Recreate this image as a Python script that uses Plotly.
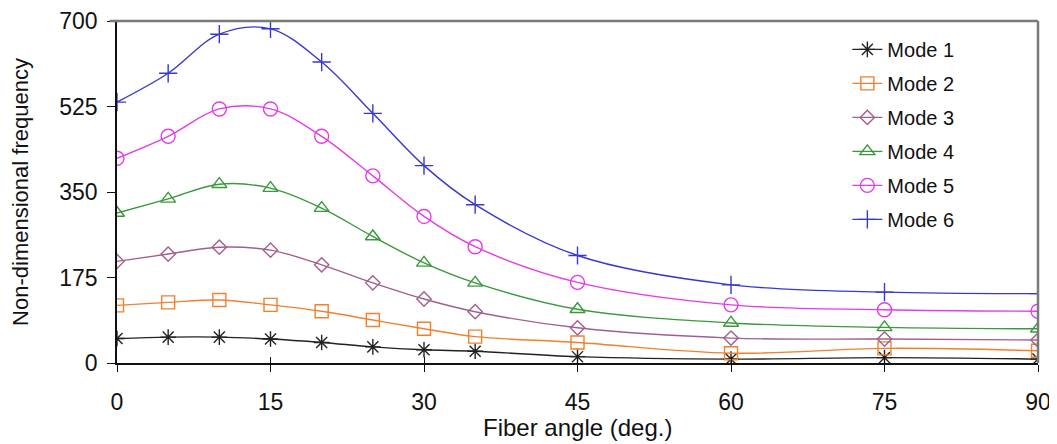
import plotly.graph_objects as go

fiber_angle = [0, 5, 10, 15, 20, 25, 30, 35, 45, 60, 75, 90]

mode1 = [50, 53, 53, 49, 42, 33, 27, 24, 13, 8, 11, 8]
mode2 = [118, 124, 129, 119, 106, 88, 70, 54, 42, 20, 30, 25]
mode3 = [208, 223, 237, 231, 201, 164, 131, 105, 72, 51, 49, 47]
mode4 = [307, 336, 366, 358, 317, 259, 205, 164, 110, 82, 73, 70]
mode5 = [419, 464, 520, 520, 464, 383, 300, 238, 165, 119, 109, 106]
mode6 = [534, 593, 673, 684, 616, 511, 404, 324, 220, 160, 145, 142]

series_names = ["Mode 1", "Mode 2", "Mode 3", "Mode 4", "Mode 5", "Mode 6"]
series_values = [mode1, mode2, mode3, mode4, mode5, mode6]

x_ticks = [0, 15, 30, 45, 60, 75, 90]
y_ticks = [0, 175, 350, 525, 700]

colors = ["#222222", "#F0802E", "#A0608C", "#3A993A", "#E53BE5", "#3838D0"]
symbols = ["asterisk-open", "square-open", "diamond-open", "triangle-up-open",
           "circle-open", "cross-thin-open"]
sizes = [13, 13, 11, 13, 14, 13]

FONT = "Liberation Sans, Arial, sans-serif"

fig = go.Figure()
for i, (name, vals) in enumerate(zip(series_names, series_values)):
    fig.add_trace(go.Scatter(
        x=fiber_angle, y=vals, name=name, mode="lines+markers",
        line=dict(color=colors[i], width=1.4, shape="spline", smoothing=1.0),
        marker=dict(symbol=symbols[i], size=sizes[i], color=colors[i],
                    line=dict(color=colors[i], width=1.4)),
        legendgroup=name,
    ))

# invisible trace on overlay axis for inward x ticks
fig.add_trace(go.Scatter(x=[0, 90], y=[0, 0], xaxis="x2", mode="none",
                         showlegend=False, hoverinfo="skip"))

# the page body has an 8px default margin, so the figure is sized/offset to compensate
fig.update_layout(
    width=1049, height=436,
    margin=dict(l=109, r=19, t=13, b=81),
    paper_bgcolor="white", plot_bgcolor="white",
    font=dict(family=FONT, color="#111111", size=20),
    showlegend=True,
    legend=dict(
        x=0.793, y=0.974, xanchor="left", yanchor="top",
        font=dict(family=FONT, size=20, color="#111111"),
        bgcolor="rgba(255,255,255,0)", tracegroupgap=5,
    ),
    xaxis=dict(
        range=[0, 90], tickvals=x_ticks, ticktext=[str(v) for v in x_ticks],
        showgrid=False, zeroline=False, automargin=False,
        showline=True, linecolor="#111111", linewidth=1.6,
        ticks="outside", ticklen=7, tickcolor="#111111", tickwidth=1.2,
        tickfont=dict(family=FONT, size=23, color="#111111"),
        ticklabelstandoff=11,
    ),
    xaxis2=dict(
        overlaying="x", matches="x", side="bottom", anchor="y",
        range=[0, 90], tickvals=x_ticks, showticklabels=False,
        showgrid=False, zeroline=False, showline=False, automargin=False,
        ticks="inside", ticklen=6, tickcolor="#111111", tickwidth=1.2,
    ),
    yaxis=dict(
        range=[0, 700], tickvals=y_ticks, ticktext=[str(v) for v in y_ticks],
        showgrid=False, zeroline=False, automargin=False,
        showline=True, linecolor="#111111", linewidth=1.6,
        ticks="outside", ticklen=8, tickcolor="#111111", tickwidth=1.2,
        tickfont=dict(family=FONT, size=23, color="#111111"),
        ticklabelstandoff=5,
        title=dict(text="Non-dimensional frequency", font=dict(family=FONT, size=22, color="#111111"),
                   standoff=26),
    ),
    annotations=[
        dict(text="Fiber angle (deg.)", xref="paper", yref="paper", x=0.5, y=-0.19,
             xanchor="center", yanchor="middle", showarrow=False,
             font=dict(family=FONT, size=24, color="#111111")),
    ],
    shapes=[
        dict(type="line", xref="paper", yref="paper", x0=-0.008, x1=1.0, y0=1.0, y1=1.0,
             line=dict(color="#7a7a7a", width=2.5), layer="above"),
        dict(type="line", xref="paper", yref="paper", x0=1.0, x1=1.0, y0=0, y1=1.0,
             line=dict(color="#7a7a7a", width=2.5), layer="above"),
    ],
)

fig.write_html("out.html")
